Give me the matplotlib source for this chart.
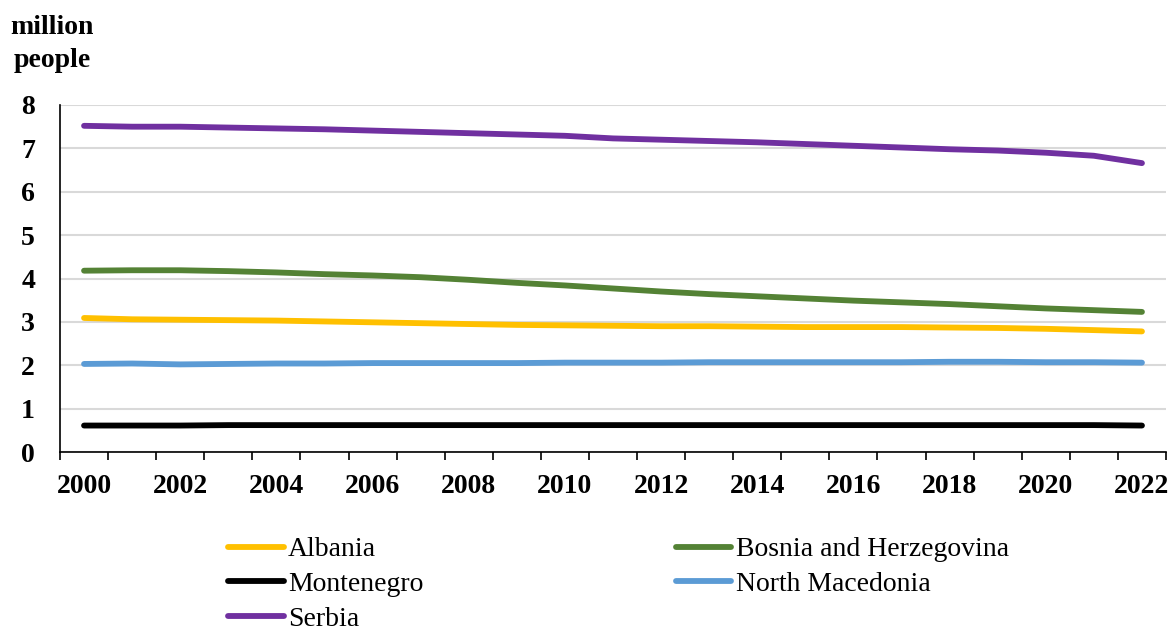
import numpy as np
import matplotlib.pyplot as plt

plt.rcParams['font.family'] = ['Liberation Serif', 'DejaVu Serif']

# Data (million people)
years = list(range(2000, 2023))
albania = [3.09, 3.06, 3.05, 3.04, 3.03, 3.01, 2.99, 2.97, 2.95, 2.93, 2.92, 2.91,
           2.90, 2.90, 2.89, 2.88, 2.88, 2.88, 2.87, 2.86, 2.84, 2.81, 2.78]
bosnia = [4.18, 4.19, 4.19, 4.17, 4.14, 4.10, 4.07, 4.03, 3.97, 3.90, 3.84, 3.77,
          3.70, 3.64, 3.59, 3.54, 3.49, 3.45, 3.41, 3.36, 3.31, 3.27, 3.23]
montenegro = [0.61, 0.61, 0.61, 0.62, 0.62, 0.62, 0.62, 0.62, 0.62, 0.62, 0.62, 0.62,
              0.62, 0.62, 0.62, 0.62, 0.62, 0.62, 0.62, 0.62, 0.62, 0.62, 0.61]
macedonia = [2.03, 2.04, 2.02, 2.03, 2.04, 2.04, 2.05, 2.05, 2.05, 2.05, 2.06, 2.06,
             2.06, 2.07, 2.07, 2.07, 2.07, 2.07, 2.08, 2.08, 2.07, 2.07, 2.06]
serbia = [7.52, 7.50, 7.50, 7.48, 7.46, 7.44, 7.41, 7.38, 7.35, 7.32, 7.29, 7.23,
          7.20, 7.17, 7.14, 7.10, 7.06, 7.02, 6.98, 6.95, 6.90, 6.83, 6.66]

series = [
    ("Albania", albania, "#FFC000"),
    ("Bosnia and Herzegovina", bosnia, "#548235"),
    ("Montenegro", montenegro, "#000000"),
    ("North Macedonia", macedonia, "#5B9BD5"),
    ("Serbia", serbia, "#7030A0"),
]

fig = plt.figure(figsize=(11.73, 6.35), dpi=100)
ax = fig.add_axes([60 / 1173, 1 - 452 / 635, 1106 / 1173, 347 / 635])

x = np.arange(len(years))
handles = {}
for name, vals, col in series:
    h, = ax.plot(x, vals, color=col, lw=4.2, solid_capstyle='round', label=name)
    handles[name] = h

ax.set_xlim(-0.5, len(years) - 0.5)
ax.set_ylim(0, 8)
ax.set_yticks(range(0, 9))
ax.set_yticklabels([str(v) for v in range(0, 9)], fontsize=20, fontweight='bold')
ax.tick_params(axis='y', length=0, pad=18)

# category axis: tick marks between years, labels every 2 years
ax.set_xticks(np.arange(-0.5, len(years)), minor=True)
ax.set_xticks(x[::2])
ax.set_xticklabels([str(y) for y in years[::2]], fontsize=20, fontweight='bold')
ax.tick_params(axis='x', which='major', length=0, pad=16)
ax.tick_params(axis='x', which='minor', length=6, width=1.2, direction='out')

ax.grid(axis='y', color='#d9d9d9', lw=1.5)
ax.set_axisbelow(True)
for s in ['top', 'right']:
    ax.spines[s].set_visible(False)
ax.spines['left'].set_linewidth(1.2)
ax.spines['bottom'].set_linewidth(1.2)

fig.text(52 / 1173, 1 - 44 / 635, "million\npeople", fontsize=20, fontweight='bold',
         ha='center', va='center', multialignment='center', linespacing=1.45)

# legend order: matplotlib fills column-wise
order = ["Albania", "Montenegro", "Serbia", "Bosnia and Herzegovina", "North Macedonia"]
fig.legend([handles[n] for n in order], order, ncol=2, frameon=False, fontsize=20,
           loc='upper left', bbox_to_anchor=(228 / 1173, 1 - 537 / 635),
           borderpad=0, borderaxespad=0, handlelength=2.0, handletextpad=0.15,
           columnspacing=9.1, labelspacing=0.33)

fig.savefig("out.png", dpi=100)
